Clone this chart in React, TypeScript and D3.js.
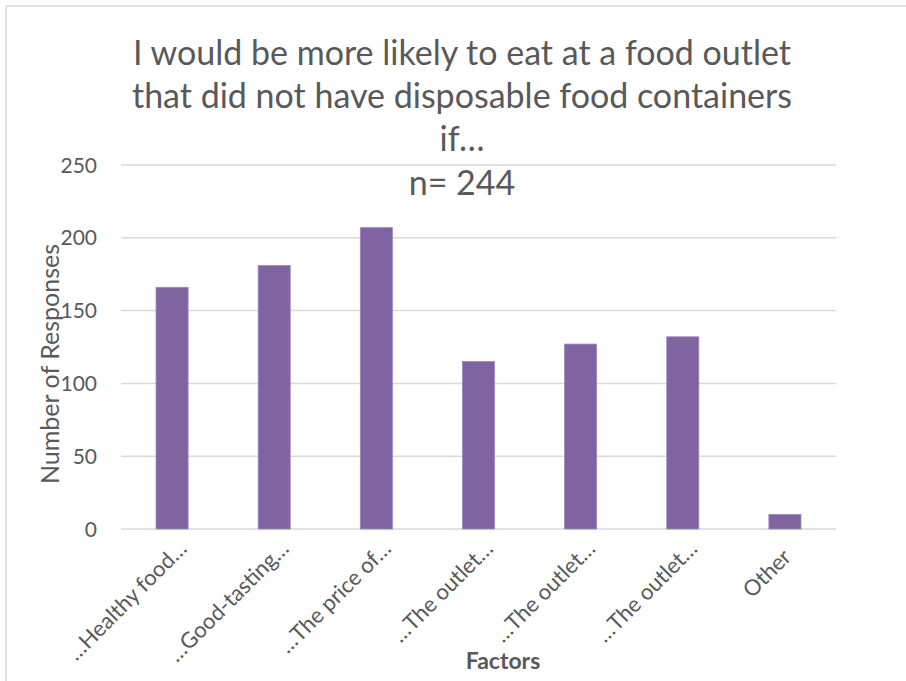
import React from "react";
import * as d3 from "d3";

const categories = [
  "…Healthy food…",
  "…Good-tasting…",
  "…The price of…",
  "…The outlet…",
  "…The outlet…",
  "…The outlet…",
  "Other",
];
const values = [166, 181, 207, 115, 127, 132, 10];
const yTicks = [0, 50, 100, 150, 200, 250];
const titleLines = [
  "I would be more likely to eat at a food outlet",
  "that did not have disposable food containers",
  "if…",
  "n= 244",
];

const W = 906;
const H = 681;
const FONT = "Lato, 'Open Sans', sans-serif";
const TEXT = "#595959";

export default function App() {
  const x = d3
    .scaleBand<number>()
    .domain(categories.map((_, i) => i))
    .range([121, 836])
    .paddingInner(0.686)
    .paddingOuter(0.343);
  const y = d3.scaleLinear().domain([0, 250]).range([529, 165]);

  return (
    <svg
      width={W}
      height={H}
      style={{ position: "absolute", left: 0, top: 0, background: "#fff" }}
    >
      <rect x={0} y={0} width={W} height={H} fill="#fff" />
      <line x1={6} y1={6} x2={W} y2={6} stroke="#d9d9d9" strokeWidth={1.5} />
      <line x1={6} y1={6} x2={6} y2={H} stroke="#d9d9d9" strokeWidth={1.5} />
      {yTicks.map((t) => (
        <g key={t}>
          <line
            x1={121}
            x2={836}
            y1={y(t)}
            y2={y(t)}
            stroke="#d9d9d9"
            strokeWidth={1.5}
          />
          <text
            x={97}
            y={y(t)}
            dy="0.36em"
            textAnchor="end"
            fontFamily={FONT}
            fontSize={21}
            fill={TEXT}
          >
            {t}
          </text>
        </g>
      ))}
      {values.map((v, i) => (
        <rect
          key={i}
          x={x(i)}
          y={y(v)}
          width={x.bandwidth()}
          height={y(0) - y(v)}
          fill="#8064A2"
          stroke="#9d87ba"
          strokeWidth={0.8}
        />
      ))}
      {categories.map((c, i) => {
        const cx = (x(i) as number) + x.bandwidth() / 2;
        const back = c.length < 8 ? 12 : 0;
        const ax = cx + 16 - back * 0.707;
        const ay = 550 + back * 0.707;
        return (
          <text
            key={i}
            transform={`translate(${ax},${ay}) rotate(-45)`}
            textAnchor="end"
            fontFamily={FONT}
            fontSize={22}
            fill={TEXT}
          >
            {c}
          </text>
        );
      })}
      {titleLines.map((l, i) => (
        <text
          key={i}
          x={462}
          y={[65, 108, 151, 195][i]}
          textAnchor="middle"
          fontFamily={FONT}
          fontSize={34}
          fill={TEXT}
        >
          {l}
        </text>
      ))}
      <text
        transform={`translate(59,364) rotate(-90)`}
        textAnchor="middle"
        fontFamily={FONT}
        fontSize={25}
        fill={TEXT}
      >
        Number of Responses
      </text>
      <text
        x={503}
        y={669}
        textAnchor="middle"
        fontFamily={FONT}
        fontSize={23}
        fontWeight="bold"
        fill={TEXT}
      >
        Factors
      </text>
    </svg>
  );
}
